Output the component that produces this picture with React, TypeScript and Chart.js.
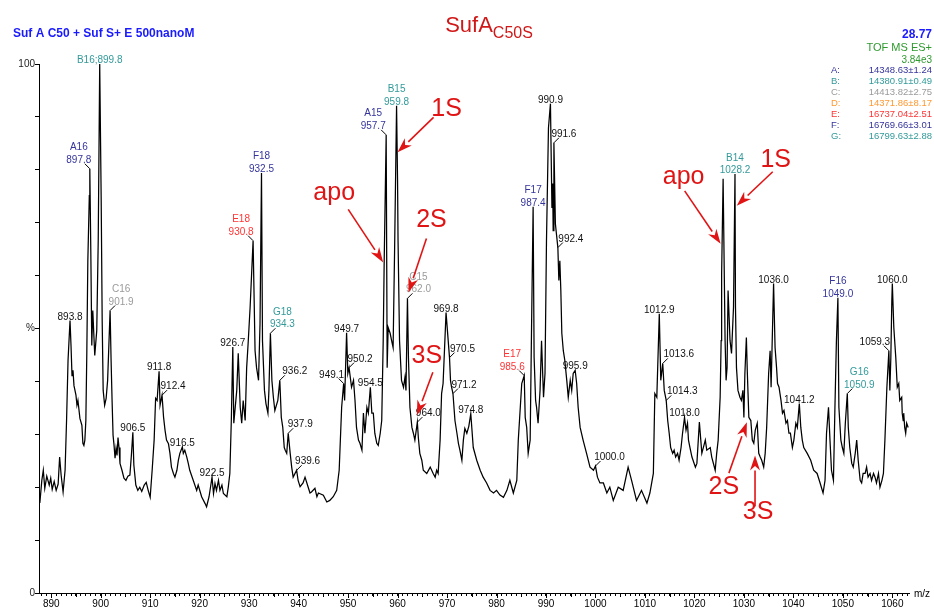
import React, { useEffect, useRef } from "react";
import { Chart, registerables } from "chart.js";

Chart.register(...registerables);

const FONT = '"Liberation Sans", Arial, Helvetica, sans-serif';

const BLACK = "#111111";
const NAVY = "#34349c";
const TEAL = "#339a9a";
const GREY = "#9a9a9a";
const ORANGE = "#ff9933";
const RED = "#ff3333";
const ARROW_RED = "#e01414";

// Deconvoluted spectrum: [m/z, relative intensity %]
const spectrum: [number, number][] = [
  [887.7, 17.0], [888.1, 21.3], [888.4, 23.2], [888.7, 19.8], [889.1, 22.1], [889.6, 20.4], [889.9, 21.7],
  [890.2, 19.6], [890.6, 21.1], [891.0, 19.4], [891.4, 20.6], [891.7, 25.7], [892.0, 22.3], [892.4, 19.1],
  [892.8, 23.2], [893.1, 32.6], [893.4, 44.0], [893.8, 51.5], [894.0, 46.8], [894.2, 41.1], [894.4, 42.1],
  [894.6, 39.2], [895.0, 37.4], [895.2, 35.5], [895.4, 36.4], [895.8, 33.0], [896.2, 31.7], [896.4, 28.3],
  [896.6, 27.9], [896.8, 28.9], [897.0, 32.6], [897.2, 45.8], [897.4, 62.8], [897.7, 75.1], [897.8, 80.2],
  [898.0, 64.7], [898.2, 46.8], [898.4, 53.4], [898.8, 44.9], [899.2, 49.6], [899.5, 66.6], [899.8, 100],
  [900.1, 74.2], [900.3, 51.5], [900.5, 38.3], [900.8, 35.5], [901.1, 36.8], [901.4, 40.2], [901.9, 53.4],
  [902.1, 44.0], [902.3, 36.4], [902.5, 29.8], [902.7, 27.9], [902.9, 25.5], [903.1, 27.4], [903.3, 26.0],
  [903.5, 29.4], [903.7, 27.5], [903.9, 24.5], [904.3, 23.2], [904.7, 21.7], [905.1, 21.3], [905.5, 22.1],
  [905.9, 22.3], [906.2, 26.0], [906.5, 30.4], [906.7, 24.2], [907.1, 20.4], [907.5, 19.4], [907.9, 20.0],
  [908.3, 19.2], [908.8, 20.4], [909.2, 20.9], [909.6, 19.4], [910.0, 18.1], [910.4, 23.2], [910.8, 28.9],
  [911.1, 36.8], [911.4, 36.4], [911.8, 41.9], [912.0, 35.5], [912.4, 37.4], [912.7, 33.3], [913.0, 30.8],
  [913.3, 28.9], [913.7, 28.2], [914.0, 26.4], [914.3, 23.8], [914.7, 22.6], [915.0, 21.9], [915.4, 23.2],
  [915.7, 25.1], [916.0, 26.4], [916.5, 27.6], [916.7, 26.4], [917.0, 27.0], [917.4, 25.7], [917.7, 24.5],
  [918.0, 23.2], [918.7, 21.3], [919.4, 19.4], [919.7, 20.4], [920.4, 18.2], [921.1, 16.9], [921.4, 16.3],
  [921.9, 18.2], [922.5, 21.9], [922.8, 18.8], [923.1, 20.7], [923.4, 19.4], [923.8, 21.3], [924.1, 19.4],
  [924.5, 20.4], [924.8, 18.8], [925.5, 18.2], [925.8, 20.1], [926.1, 22.6], [926.4, 32.6], [926.7, 46.5],
  [926.9, 32.1], [927.5, 38.3], [927.8, 45.3], [928.2, 35.1], [928.5, 32.1], [928.8, 36.4], [929.2, 32.6],
  [929.5, 42.6], [929.8, 47.2], [930.2, 54.0], [930.8, 66.6], [931.2, 45.8], [931.5, 42.6], [931.9, 40.2],
  [932.2, 50.9], [932.5, 79.4], [932.7, 47.7], [933.1, 38.3], [933.4, 35.8], [933.8, 34.0], [934.0, 38.3],
  [934.3, 49.1], [934.6, 40.2], [934.9, 37.0], [935.2, 34.5], [935.8, 36.4], [936.2, 40.2], [936.5, 33.2],
  [936.8, 31.3], [937.1, 27.5], [937.3, 27.0], [937.6, 26.4], [937.9, 30.2], [938.3, 26.4], [938.6, 23.8],
  [938.9, 21.9], [939.6, 23.2], [939.9, 21.3], [940.3, 20.1], [940.9, 20.8], [941.3, 21.9], [942.0, 19.8],
  [942.3, 18.9], [942.6, 19.1], [943.3, 19.8], [943.7, 18.2], [944.0, 18.9], [945.0, 18.5], [945.7, 17.2],
  [946.3, 17.5], [947.0, 18.2], [947.7, 19.4], [948.2, 23.2], [948.7, 35.1], [949.1, 39.6], [949.3, 36.4],
  [949.7, 49.2], [949.95, 41.5], [950.2, 42.6], [950.7, 38.9], [951.1, 40.2], [951.4, 36.4], [951.7, 31.3],
  [952.1, 28.9], [952.4, 28.3], [952.8, 27.0], [953.1, 34.0], [953.4, 30.2], [953.8, 35.1], [954.1, 34.0],
  [954.5, 38.9], [954.8, 34.0], [955.1, 34.0], [955.4, 30.2], [955.8, 28.3], [956.1, 27.9], [956.5, 30.2],
  [956.8, 32.6], [957.1, 47.7], [957.3, 62.8], [957.7, 86.6], [957.9, 42.6], [958.1, 50.2], [958.5, 49.1],
  [958.8, 47.7], [959.1, 46.4], [959.4, 64.7], [959.8, 92.1], [960.0, 77.9], [960.1, 66.6], [960.4, 47.7],
  [960.8, 40.2], [961.2, 38.9], [961.5, 40.8], [961.7, 38.3], [962.0, 55.7], [962.2, 44.5], [962.5, 35.1],
  [962.9, 31.3], [963.2, 30.2], [963.5, 28.9], [964.0, 32.3], [964.2, 29.4], [964.5, 26.4], [964.9, 25.1],
  [965.2, 23.2], [965.9, 22.6], [966.6, 23.8], [967.2, 22.6], [967.6, 21.9], [967.9, 23.2], [968.2, 22.6],
  [968.6, 28.9], [968.9, 37.7], [969.2, 39.6], [969.8, 53.0], [970.5, 44.5], [970.7, 40.2], [970.9, 39.0],
  [971.2, 37.7], [971.6, 32.6], [972.0, 30.2], [972.3, 28.3], [972.6, 27.0], [973.0, 25.1], [973.3, 28.9],
  [973.6, 31.1], [974.0, 30.2], [974.4, 31.5], [974.8, 33.9], [975.3, 27.5], [976.0, 25.1], [976.7, 23.2],
  [977.3, 21.9], [978.0, 20.8], [978.7, 19.4], [979.4, 18.9], [980.0, 19.4], [980.7, 18.5], [981.4, 18.1],
  [982.1, 19.4], [982.7, 21.3], [983.4, 18.9], [984.1, 21.3], [984.4, 28.9], [985.1, 39.6], [985.6, 41.1],
  [985.8, 33.2], [986.1, 31.3], [986.4, 26.4], [986.8, 28.9], [987.1, 51.5], [987.4, 73.0], [987.6, 44.5],
  [987.9, 36.4], [988.1, 35.1], [988.4, 32.1], [988.8, 38.3], [989.1, 47.7], [989.5, 37.0], [989.8, 41.5],
  [990.1, 66.6], [990.5, 87.9], [990.9, 92.5], [991.2, 72.8], [991.35, 77.4], [991.45, 68.5], [991.6, 85.1],
  [991.9, 69.8], [992.4, 65.3], [992.6, 59.1], [992.8, 62.8], [993.0, 57.2], [993.2, 49.1], [993.5, 45.8],
  [993.8, 44.0], [994.2, 40.2], [994.5, 37.0], [994.9, 40.2], [995.2, 38.3], [995.5, 41.5], [995.9, 42.1],
  [996.2, 39.6], [996.5, 35.1], [996.9, 31.3], [997.5, 28.9], [998.2, 26.4], [998.9, 23.8], [999.6, 23.2],
  [1000.0, 24.0], [1000.4, 21.9], [1000.9, 20.8], [1001.6, 20.8], [1002.3, 18.9], [1002.9, 20.0], [1003.6, 17.5],
  [1004.6, 20.0], [1005.6, 19.4], [1006.6, 23.8], [1007.3, 21.3], [1008.3, 17.5], [1009.3, 19.4], [1010.4, 17.0],
  [1011.0, 18.9], [1011.7, 22.6], [1012.0, 37.7], [1012.4, 37.0], [1012.9, 52.8], [1013.2, 40.2], [1013.6, 43.4],
  [1013.9, 38.3], [1014.3, 36.4], [1014.6, 32.6], [1014.9, 30.2], [1015.2, 27.5], [1015.6, 26.4], [1015.9, 27.0],
  [1016.2, 25.7], [1016.6, 26.4], [1016.9, 25.1], [1017.3, 27.5], [1017.6, 30.2], [1018.0, 33.2], [1018.3, 30.8],
  [1018.6, 32.1], [1018.8, 28.9], [1019.1, 27.5], [1019.5, 25.7], [1020.2, 23.8], [1020.5, 24.5], [1021.0, 32.3],
  [1021.5, 26.4], [1022.2, 28.9], [1022.5, 27.0], [1023.2, 27.5], [1023.5, 25.7], [1024.2, 23.2], [1024.5, 26.4],
  [1024.8, 28.9], [1025.2, 37.0], [1025.4, 47.7], [1025.5, 60.4], [1025.8, 78.3], [1026.2, 47.7], [1026.4, 40.2],
  [1026.6, 42.6], [1026.8, 57.2], [1027.2, 47.7], [1027.5, 45.3], [1027.9, 54.0], [1028.2, 79.2], [1028.3, 54.0],
  [1028.5, 42.6], [1028.8, 38.3], [1029.2, 37.0], [1029.5, 36.4], [1029.8, 38.3], [1030.0, 33.2], [1030.2, 41.5],
  [1030.5, 48.3], [1030.7, 41.5], [1031.0, 33.2], [1031.4, 32.6], [1031.7, 28.9], [1032.0, 28.3], [1032.3, 30.8],
  [1032.7, 32.1], [1033.0, 26.4], [1033.3, 25.7], [1033.6, 25.1], [1034.0, 23.8], [1034.3, 26.4], [1034.6, 31.3],
  [1035.0, 41.5], [1035.3, 45.8], [1035.5, 38.9], [1036.0, 58.5], [1036.3, 46.4], [1036.6, 42.6], [1036.8, 39.6],
  [1037.1, 38.9], [1037.5, 36.4], [1037.8, 34.0], [1038.1, 34.5], [1038.5, 32.1], [1038.8, 32.6], [1039.1, 30.2],
  [1039.4, 30.2], [1039.8, 27.5], [1040.1, 28.9], [1040.5, 32.1], [1040.8, 31.3], [1041.2, 35.8], [1041.5, 31.3],
  [1041.8, 28.9], [1042.1, 27.5], [1042.8, 26.4], [1043.5, 25.1], [1044.1, 23.2], [1044.8, 22.6], [1045.4, 20.8],
  [1046.0, 18.9], [1046.4, 21.3], [1046.7, 30.2], [1047.1, 35.1], [1047.4, 28.9], [1047.7, 23.2], [1048.1, 21.3],
  [1048.4, 35.1], [1048.7, 47.7], [1049.0, 55.8], [1049.2, 35.1], [1049.6, 28.9], [1049.9, 27.5], [1050.2, 26.4],
  [1050.5, 32.1], [1050.9, 37.7], [1051.1, 31.3], [1051.4, 27.5], [1051.8, 24.5], [1052.1, 23.8], [1052.5, 26.4],
  [1052.8, 28.9], [1053.1, 25.1], [1053.5, 21.3], [1053.8, 20.8], [1054.1, 22.6], [1054.5, 22.6], [1054.8, 23.8],
  [1055.1, 21.9], [1055.5, 22.6], [1055.8, 21.3], [1056.2, 22.6], [1056.5, 21.9], [1056.8, 20.8], [1057.2, 22.6],
  [1057.5, 20.0], [1057.9, 21.3], [1058.2, 22.6], [1058.5, 28.9], [1058.9, 38.9], [1059.3, 45.8], [1059.5, 38.3],
  [1059.7, 44.5], [1059.9, 55.3], [1060.0, 58.5], [1060.3, 50.2], [1060.7, 44.5], [1061.0, 38.9], [1061.3, 39.6],
  [1061.5, 36.4], [1061.9, 37.0], [1062.0, 34.0], [1062.2, 32.6], [1062.3, 34.0], [1062.5, 31.3], [1062.7, 30.2],
  [1062.9, 32.1], [1063.2, 31.3],
];

const xLabelValues = [890, 900, 910, 920, 930, 940, 950, 960, 970, 980, 990, 1000, 1010, 1020, 1030, 1040, 1050, 1060];
const yLabelText: Record<number, string> = { 100: "100", 50: "%", 0: "0" };

// Annotated peaks: m/z, text lines, colour
const peakLabels: { mz: number; lines: string[]; color: string }[] = [
  { mz: 893.8, lines: ["893.8"], color: BLACK },
  { mz: 897.8, lines: ["A16", "897.8"], color: NAVY },
  { mz: 899.8, lines: ["B16;899.8"], color: TEAL },
  { mz: 901.9, lines: ["C16", "901.9"], color: GREY },
  { mz: 906.5, lines: ["906.5"], color: BLACK },
  { mz: 911.8, lines: ["911.8"], color: BLACK },
  { mz: 912.4, lines: ["912.4"], color: BLACK },
  { mz: 916.5, lines: ["916.5"], color: BLACK },
  { mz: 922.5, lines: ["922.5"], color: BLACK },
  { mz: 926.7, lines: ["926.7"], color: BLACK },
  { mz: 930.8, lines: ["E18", "930.8"], color: RED },
  { mz: 932.5, lines: ["F18", "932.5"], color: NAVY },
  { mz: 934.3, lines: ["G18", "934.3"], color: TEAL },
  { mz: 936.2, lines: ["936.2"], color: BLACK },
  { mz: 937.9, lines: ["937.9"], color: BLACK },
  { mz: 939.6, lines: ["939.6"], color: BLACK },
  { mz: 949.1, lines: ["949.1"], color: BLACK },
  { mz: 949.7, lines: ["949.7"], color: BLACK },
  { mz: 950.2, lines: ["950.2"], color: BLACK },
  { mz: 954.5, lines: ["954.5"], color: BLACK },
  { mz: 957.7, lines: ["A15", "957.7"], color: NAVY },
  { mz: 959.8, lines: ["B15", "959.8"], color: TEAL },
  { mz: 962.0, lines: ["C15", "962.0"], color: GREY },
  { mz: 964.0, lines: ["964.0"], color: BLACK },
  { mz: 969.8, lines: ["969.8"], color: BLACK },
  { mz: 970.5, lines: ["970.5"], color: BLACK },
  { mz: 971.2, lines: ["971.2"], color: BLACK },
  { mz: 974.8, lines: ["974.8"], color: BLACK },
  { mz: 985.6, lines: ["E17", "985.6"], color: RED },
  { mz: 987.4, lines: ["F17", "987.4"], color: NAVY },
  { mz: 990.9, lines: ["990.9"], color: BLACK },
  { mz: 991.6, lines: ["991.6"], color: BLACK },
  { mz: 992.4, lines: ["992.4"], color: BLACK },
  { mz: 995.9, lines: ["995.9"], color: BLACK },
  { mz: 1000.0, lines: ["1000.0"], color: BLACK },
  { mz: 1012.9, lines: ["1012.9"], color: BLACK },
  { mz: 1013.6, lines: ["1013.6"], color: BLACK },
  { mz: 1014.3, lines: ["1014.3"], color: BLACK },
  { mz: 1018.0, lines: ["1018.0"], color: BLACK },
  { mz: 1028.2, lines: ["B14", "1028.2"], color: TEAL },
  { mz: 1036.0, lines: ["1036.0"], color: BLACK },
  { mz: 1041.2, lines: ["1041.2"], color: BLACK },
  { mz: 1049.0, lines: ["F16", "1049.0"], color: NAVY },
  { mz: 1050.9, lines: ["G16", "1050.9"], color: TEAL },
  { mz: 1059.3, lines: ["1059.3"], color: BLACK },
  { mz: 1060.0, lines: ["1060.0"], color: BLACK },
];

// Sideways shift (px) for labels set beside their peak with a leader line
const labelShift: Record<string, number> = {
  "897.8": -11, "901.9": 11, "912.4": 11, "930.8": -12, "934.3": 12, "936.2": 15, "937.9": 12,
  "939.6": 11, "949.1": -12, "950.2": 11, "957.7": -13, "962.0": 11, "964.0": 11, "970.5": 13,
  "971.2": 11, "985.6": -12, "991.6": 10, "992.4": 13, "1000.0": 14, "1013.6": 16, "1014.3": 16,
  "1050.9": 12, "1059.3": -14,
};

// Red arrow notes: tip in data units, tail and caption as pixel offsets from the tip
const arrowNotes: { text: string; mz: number; pct: number; tail: [number, number]; caption: [number, number] }[] = [
  { text: "apo", mz: 957.1, pct: 62.5, tail: [-35, -53], caption: [-49, -69] },
  { text: "1S", mz: 960.0, pct: 83.3, tail: [36, -35], caption: [49, -43] },
  { text: "2S", mz: 962.2, pct: 56.8, tail: [18, -54], caption: [23, -72] },
  { text: "3S", mz: 963.9, pct: 33.6, tail: [16, -43], caption: [10, -59] },
  { text: "apo", mz: 1025.3, pct: 66.0, tail: [-36, -53], caption: [-37, -67] },
  { text: "1S", mz: 1028.55, pct: 73.2, tail: [36, -34], caption: [39, -46] },
  { text: "2S", mz: 1030.6, pct: 32.3, tail: [-18, 51], caption: [-23, 65] },
  { text: "3S", mz: 1032.25, pct: 26.0, tail: [0, 51], caption: [3, 57] },
];

const componentKeys = ["A:", "B:", "C:", "D:", "E:", "F:", "G:"];
const componentMasses = [
  "14348.63±1.24", "14380.91±0.49", "14413.82±2.75", "14371.86±8.17",
  "16737.04±2.51", "16769.66±3.01", "16799.63±2.88",
];
const componentColors = [NAVY, TEAL, GREY, ORANGE, RED, NAVY, TEAL];

const annotationPlugin = {
  id: "spectrumAnnotations",
  afterDatasetsDraw(chart: Chart) {
    const ctx = chart.ctx;
    const xs = chart.scales.x;
    const ys = chart.scales.y;
    const area = chart.chartArea;
    ctx.save();

    // longer ticks every 5 m/z
    ctx.strokeStyle = "#000";
    ctx.lineWidth = 1;
    for (let v = 890; v <= 1060; v += 5) {
      const px = Math.round(xs.getPixelForValue(v)) + 0.5;
      ctx.beginPath();
      ctx.moveTo(px, area.bottom);
      ctx.lineTo(px, area.bottom + (v % 10 === 0 ? 5 : 4));
      ctx.stroke();
    }
    ctx.fillStyle = "#000";
    ctx.font = `10px ${FONT}`;
    ctx.textAlign = "left";
    ctx.textBaseline = "middle";
    ctx.fillText("m/z", area.right + 5, area.bottom + 1);

    // header texts
    ctx.textBaseline = "alphabetic";
    ctx.font = `bold 12px ${FONT}`;
    ctx.fillStyle = "#1a1aff";
    ctx.fillText("Suf A C50 + Suf S+ E 500nanoM", 13, 37);

    ctx.fillStyle = "#d01818";
    ctx.font = `22px ${FONT}`;
    const main = "SufA";
    const mainW = ctx.measureText(main).width;
    ctx.font = `16px ${FONT}`;
    const sub = "C50S";
    const subW = ctx.measureText(sub).width;
    const tx = 489 - (mainW + subW) / 2;
    ctx.font = `22px ${FONT}`;
    ctx.fillText(main, tx, 32);
    ctx.font = `16px ${FONT}`;
    ctx.fillText(sub, tx + mainW, 38);

    ctx.textAlign = "right";
    ctx.font = `bold 12px ${FONT}`;
    ctx.fillStyle = "#1a1aff";
    ctx.fillText("28.77", 932, 38);
    ctx.font = `11px ${FONT}`;
    ctx.fillStyle = "#2e9a2e";
    ctx.fillText("TOF MS ES+", 932, 51);
    ctx.font = `10px ${FONT}`;
    ctx.fillText("3.84e3", 932, 63);
    componentKeys.forEach((key, i) => {
      const y = 73 + i * 11;
      ctx.fillStyle = componentColors[i];
      ctx.font = `9.5px ${FONT}`;
      ctx.textAlign = "left";
      ctx.fillText(key, 831, y);
      ctx.textAlign = "right";
      ctx.fillText(componentMasses[i], 932, y);
    });

    // peak labels
    ctx.font = `10px ${FONT}`;
    ctx.textAlign = "center";
    for (const lab of peakLabels) {
      const pt = spectrum.find(([m]) => Math.abs(m - lab.mz) < 1e-6);
      if (!pt) continue;
      const px = xs.getPixelForValue(pt[0]);
      const py = ys.getPixelForValue(pt[1]);
      const key = lab.mz.toFixed(1);
      const dx = labelShift[key] ?? 0;
      let base = py - 1;
      if (dx !== 0) {
        const s = Math.sign(dx);
        ctx.strokeStyle = "#000";
        ctx.lineWidth = 1;
        ctx.beginPath();
        ctx.moveTo(px, py);
        ctx.lineTo(px + s * 5, py - 5);
        ctx.stroke();
        base = py - 6;
      }
      ctx.fillStyle = lab.color;
      const n = lab.lines.length;
      lab.lines.forEach((line, i) => {
        ctx.fillText(line, px + dx, base - (n - 1 - i) * 12.5);
      });
    }

    // red arrows
    for (const a of arrowNotes) {
      const tipX = xs.getPixelForValue(a.mz);
      const tipY = ys.getPixelForValue(a.pct);
      const tailX = tipX + a.tail[0];
      const tailY = tipY + a.tail[1];
      const ang = Math.atan2(tipY - tailY, tipX - tailX);
      const headLen = 15;
      const headHalf = 5;
      const bx = tipX - Math.cos(ang) * headLen;
      const by = tipY - Math.sin(ang) * headLen;
      ctx.strokeStyle = ARROW_RED;
      ctx.fillStyle = ARROW_RED;
      ctx.lineWidth = 1.6;
      ctx.beginPath();
      ctx.moveTo(tailX, tailY);
      ctx.lineTo(bx, by);
      ctx.stroke();
      ctx.beginPath();
      ctx.moveTo(tipX, tipY);
      ctx.lineTo(bx + Math.sin(ang) * headHalf, by - Math.cos(ang) * headHalf);
      ctx.lineTo(tipX - Math.cos(ang) * headLen * 0.7, tipY - Math.sin(ang) * headLen * 0.7);
      ctx.lineTo(bx - Math.sin(ang) * headHalf, by + Math.cos(ang) * headHalf);
      ctx.closePath();
      ctx.fill();
      ctx.font = `25px ${FONT}`;
      ctx.textAlign = "center";
      ctx.textBaseline = "middle";
      ctx.fillText(a.text, tipX + a.caption[0], tipY + a.caption[1]);
      ctx.textBaseline = "alphabetic";
    }
    ctx.restore();
  },
};

export default function App() {
  const canvasRef = useRef<HTMLCanvasElement | null>(null);

  useEffect(() => {
    const canvas = canvasRef.current;
    if (!canvas) return;
    const chart = new Chart(canvas, {
      type: "line",
      data: {
        datasets: [
          {
            data: spectrum.map(([x, y]) => ({ x, y })),
            borderColor: "#000",
            borderWidth: 1.25,
            pointRadius: 0,
            tension: 0,
            fill: false,
          },
        ],
      },
      options: {
        animation: false,
        responsive: false,
        devicePixelRatio: 1,
        parsing: false,
        layout: { padding: { top: 64, right: 25, left: 0, bottom: 0 } },
        plugins: {
          legend: { display: false },
          tooltip: { enabled: false },
          title: { display: false },
        },
        scales: {
          x: {
            type: "linear",
            min: 887.53,
            max: 1063.37,
            border: { display: true, color: "#000", width: 1 },
            grid: { drawOnChartArea: false, drawTicks: true, tickLength: 3, color: "#000", lineWidth: 1 },
            ticks: {
              stepSize: 1,
              includeBounds: false,
              autoSkip: false,
              maxRotation: 0,
              minRotation: 0,
              padding: 2,
              color: "#000",
              font: { family: FONT, size: 10 },
              callback: (v: any) => {
                const n = Math.round(Number(v));
                return Math.abs(Number(v) - n) < 1e-6 && xLabelValues.includes(n) ? String(n) : "";
              },
            },
            afterFit: (s: any) => {
              s.height = 14;
            },
          },
          y: {
            type: "linear",
            min: 0,
            max: 100,
            border: { display: true, color: "#000", width: 1 },
            grid: { drawOnChartArea: false, drawTicks: true, tickLength: 4, color: "#000", lineWidth: 1 },
            ticks: {
              stepSize: 10,
              padding: 0,
              color: "#222",
              font: { family: FONT, size: 10 },
              callback: (v: any) => yLabelText[Math.round(Number(v))] ?? "",
            },
            afterFit: (s: any) => {
              s.width = 39;
            },
          },
        },
      },
      plugins: [annotationPlugin],
    });
    return () => chart.destroy();
  }, []);

  return (
    <div style={{ position: "absolute", left: 0, top: 0, width: 934, height: 607, background: "#fff" }}>
      <canvas ref={canvasRef} width={934} height={607} style={{ display: "block" }} />
    </div>
  );
}
